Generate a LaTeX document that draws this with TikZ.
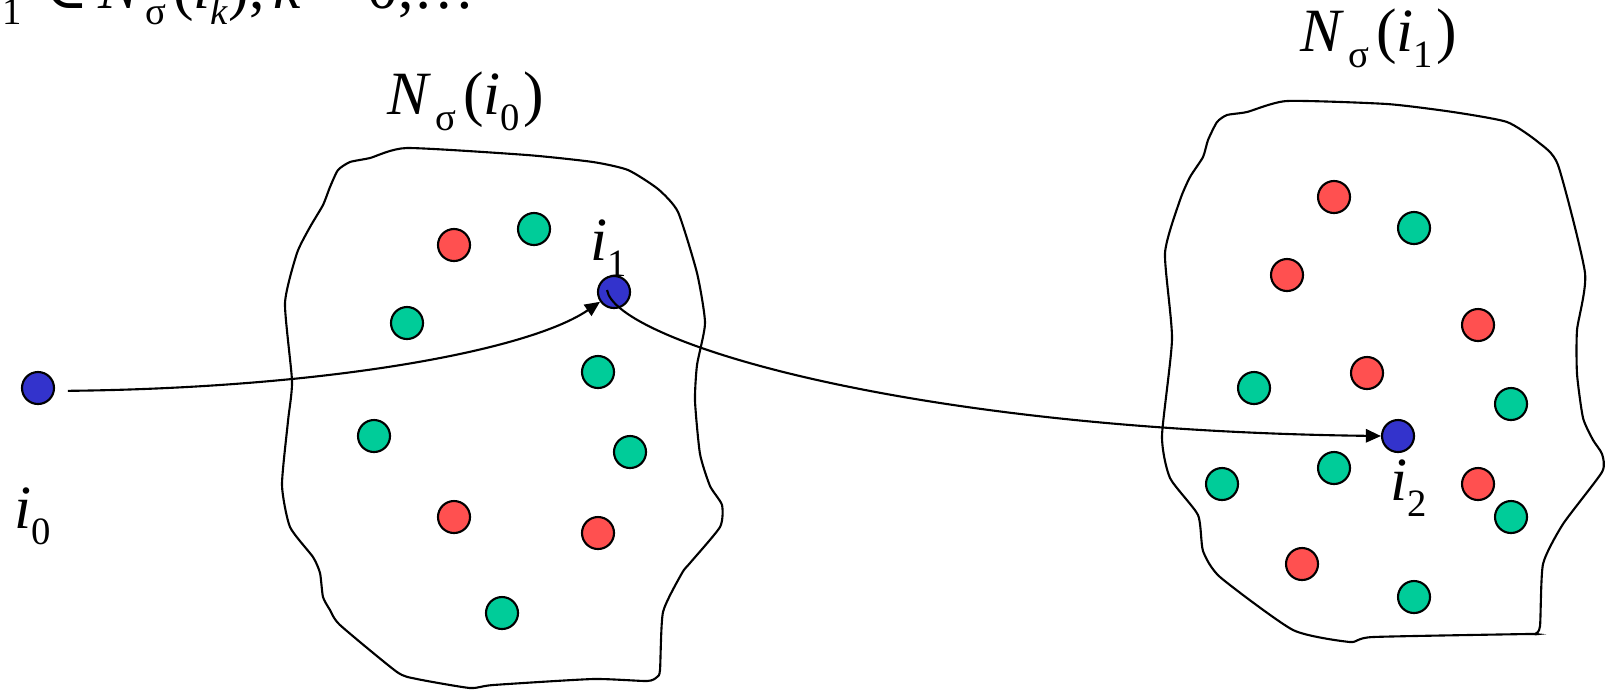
\documentclass[tikz,border=0pt]{standalone}
\usepackage{fontspec}
\setmainfont{Liberation Serif}
\newfontfamily\symfont{DejaVu Serif}
\usetikzlibrary{arrows.meta,calc}
\definecolor{ptred}{HTML}{FF5050}
\definecolor{ptgreen}{HTML}{00CC99}
\definecolor{ptblue}{HTML}{3333CC}
\newcommand{\lowsub}[1]{\raisebox{-0.26em}{\fontsize{11}{13}\selectfont #1}}

\begin{document}
\begin{tikzpicture}[
  x=0.01cm, y=-0.01cm,
  dot/.style={circle, draw=black, line width=0.6pt, minimum size=0.32cm, inner sep=0pt},
  rdot/.style={dot, fill=ptred},
  gdot/.style={dot, fill=ptgreen},
  bdot/.style={dot, fill=ptblue},
  region/.style={draw=black, line width=0.6pt},
  link/.style={-{Triangle[length=4.3pt,width=3.8pt]}, line width=0.6pt},
  lbl/.style={font=\fontsize{17.5}{20}\selectfont, anchor=base west, inner sep=0pt},
]
\useasboundingbox (0,0) rectangle (1607,690);
\clip (0,0) rectangle (1607,690);

% ---------------- rule at the top (cut by the frame) ----------------
\node[lbl] (rule) at (-55,8)
  {\textit{i}\lowsub{\textit{k}+1}\hspace{0.35em}{\symfont ∈}\hspace{0.15em}\textit{N}\kern1pt\lowsub{σ}\kern2pt(\textit{i}\lowsub{\textit{k}}),\hspace{0.15em}\textit{k}\hspace{0.25em}=\hspace{0.25em}0,…};

% ---------------- two neighbourhoods --------------------------------
\draw[region] plot[smooth cycle, tension=0.35] coordinates {
  (407,148) (527,155) (593,162) (628,170) (658,189) (678,212) (697,273)
  (705,323) (697,365) (695,401) (700,454) (710,486) (722,505) (720,527)
  (690,563) (682,573) (663,612) (660,670) (657,677) (647,681) (593,679)
  (493,685) (470,688) (417,679) (397,672) (340,625) (330,610) (323,597)
  (320,573) (313,557) (290,527) (282,485) (288,421) (292,381) (285,303)
  (297,253) (310,227) (323,205) (330,187) (338,170) (350,162) (370,158)};
\draw[region] plot[smooth cycle, tension=0.35] coordinates {
  (1287,101) (1387,104) (1453,112) (1507,122) (1538,142) (1558,165)
  (1585,273) (1577,330) (1577,374) (1583,418) (1593,440) (1602,454)
  (1602,472) (1563,524) (1543,564) (1540,626) (1535,634) (1527,634)
  (1373,637) (1350,642) (1293,630) (1220,577) (1203,551) (1198,515)
  (1170,478) (1162,436) (1172,339) (1165,253) (1180,200) (1190,177)
  (1203,157) (1208,140) (1217,122) (1227,115) (1247,112)};

\node[lbl] (nbA) at (387,114) {\textit{N}\kern1pt\lowsub{σ}\kern2pt(\textit{i}\lowsub{0}\kern1pt)};
\node[lbl] (nbB) at (1300,51) {\textit{N}\kern1pt\lowsub{σ}\kern2pt(\textit{i}\lowsub{1}\kern1pt)};

% ---------------- points ---------------------------------------------
\foreach \x/\y [count=\n] in {454/245, 454/517, 598/533,
    1334/197, 1287/275, 1478/325, 1367/373, 1478/484, 1302/564}
  \node[rdot] (r\n) at (\x,\y) {};
\foreach \x/\y [count=\n] in {534/229, 407/323, 598/372, 374/436, 630/452, 502/613,
    1414/228, 1254/388, 1511/404, 1334/468, 1222/484, 1511/517, 1414/597}
  \node[gdot] (g\n) at (\x,\y) {};

\node[bdot] (i0) at (38,388) {};
\node[bdot] (i1) at (614,292) {};
\node[bdot] (i2) at (1398,436) {};

\node[lbl] (li0) at (14,528) {\textit{i}\lowsub{0}};
\node[lbl] (li1) at (590,260) {\textit{i}\lowsub{1}};
\node[lbl] (li2) at (1390,500) {\textit{i}\lowsub{2}};

% ---------------- moves ----------------------------------------------
\draw[link, shorten <=0.13cm] (i0.-10) .. controls (330,388) and (530,350) .. (i1.215);
\draw[link] ($(i1.center)+(-7,-2)$) .. controls (615,340) and (900,430) .. (i2.west);

\end{tikzpicture}
\end{document}
